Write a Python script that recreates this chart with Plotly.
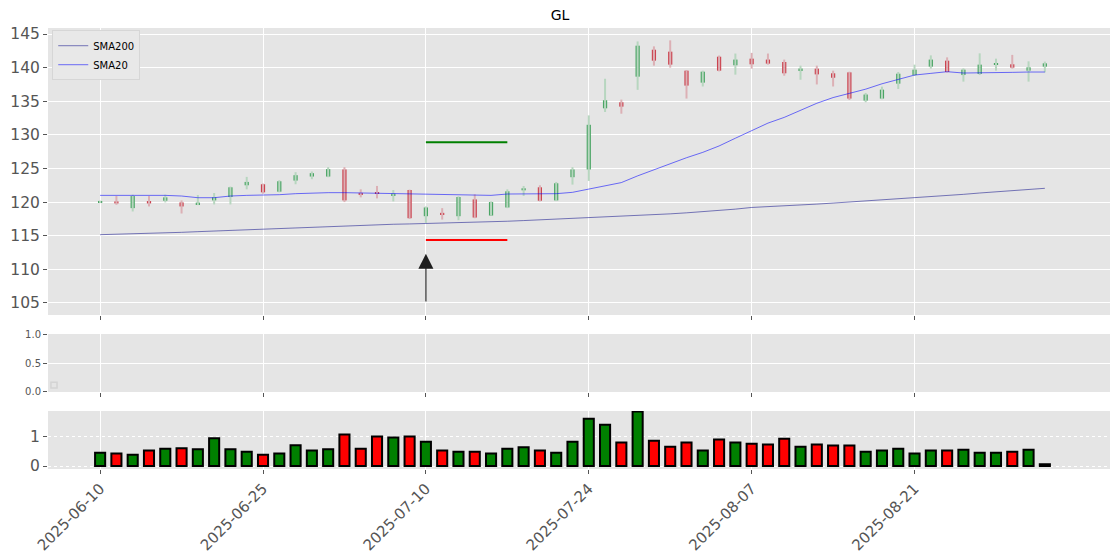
import pandas as pd
import plotly.graph_objects as go
from plotly.subplots import make_subplots

# ---------------- data ----------------
holidays = ["2025-06-19", "2025-07-04", "2025-09-01"]
dates = [d.strftime("%Y-%m-%d") for d in pd.bdate_range("2025-06-10", "2025-09-03") if d.strftime("%Y-%m-%d") not in holidays]

opens = [119.95, 120.1, 119.1, 120.15, 120.2, 119.95, 119.7, 120.25, 120.75, 122.5,
         122.65, 121.55, 123.2, 123.8, 123.8, 124.85, 121.35, 121.45, 120.9, 121.8,
         117.9, 118.4, 117.9, 120.4, 118.0, 119.2, 121.75, 122.2, 120.25, 123.7,
         124.85, 133.95, 134.85, 138.66, 142.67, 142.38, 139.55, 137.77, 141.63, 140.35,
         141.34, 141.2, 140.84, 139.65, 139.85, 139.16, 139.3, 135.1, 135.4, 137.62,
         138.9, 140.15, 141.04, 138.9, 139.06, 140.4, 140.5, 139.55, 140.15]
closes = [120.05, 119.8, 120.9, 119.8, 120.7, 119.35, 119.8, 120.7, 122.2, 123.0,
          121.45, 123.1, 124.0, 124.3, 124.9, 120.25, 121.15, 121.25, 121.25, 117.6,
          119.2, 118.17, 120.75, 117.7, 120.0, 121.6, 122.05, 120.2, 122.8, 124.85,
          131.5, 135.15, 134.2, 143.27, 141.04, 140.45, 137.33, 139.4, 139.55, 141.2,
          140.5, 140.6, 139.16, 139.8, 139.0, 138.5, 135.4, 136.0, 136.73, 139.1,
          139.7, 141.2, 139.36, 139.7, 140.45, 140.6, 140.0, 140.05, 140.64]
highs = [120.2, 120.9, 121.1, 120.9, 121.1, 120.25, 121.05, 121.35, 122.3, 123.75,
         122.75, 123.25, 124.45, 124.55, 125.2, 125.2, 121.9, 122.4, 121.8, 121.85,
         119.35, 119.1, 120.85, 121.15, 120.1, 121.9, 122.4, 122.5, 123.0, 125.2,
         132.9, 138.35, 135.25, 143.9, 143.17, 144.06, 139.65, 139.55, 141.8, 142.1,
         142.2, 142.1, 141.2, 140.3, 140.3, 139.55, 139.4, 136.24, 137.18, 139.36,
         140.45, 141.83, 141.53, 139.9, 142.13, 141.34, 141.9, 140.94, 140.9]
lows = [119.85, 119.6, 118.6, 119.35, 119.95, 118.3, 119.55, 119.65, 119.65, 121.9,
        121.25, 121.45, 122.65, 123.4, 123.7, 120.0, 120.7, 120.55, 120.1, 117.5,
        116.9, 117.4, 117.3, 117.6, 118.0, 119.1, 120.9, 120.1, 120.15, 122.6,
        123.15, 133.4, 133.15, 136.7, 140.3, 140.0, 135.4, 137.2, 139.45, 138.96,
        139.85, 140.45, 138.8, 138.2, 137.5, 137.2, 135.2, 134.85, 135.3, 136.83,
        138.76, 139.85, 139.26, 137.92, 138.9, 139.55, 139.85, 137.92, 139.3]

sma20 = [121.0, 121.0, 121.05, 121.0, 121.0, 120.9, 120.65, 120.65, 120.9, 121.0,
         121.0, 121.1, 121.25, 121.35, 121.4, 121.4, 121.35, 121.35, 121.35, 121.3,
         121.25, 121.2, 121.1, 121.05, 121.0, 121.2, 121.25, 121.2, 121.25, 121.45,
         121.9, 122.45, 122.9, 123.9, 124.8, 125.75, 126.6, 127.4, 128.35, 129.5,
         130.65, 131.75, 132.6, 133.7, 134.7, 135.55, 136.15, 136.8, 137.6, 138.3,
         138.9, 139.15, 139.4, 139.2, 139.2, 139.2, 139.3, 139.35, 139.35]
sma200 = [115.15, 115.2, 115.25, 115.35, 115.45, 115.5, 115.6, 115.7, 115.8, 115.9,
          115.95, 116.05, 116.15, 116.3, 116.4, 116.5, 116.55, 116.6, 116.7, 116.75,
          116.8, 116.9, 116.95, 117.0, 117.1, 117.15, 117.25, 117.35, 117.45, 117.55,
          117.65, 117.75, 117.85, 118.0, 118.1, 118.25, 118.4, 118.55, 118.7, 118.95,
          119.2, 119.3, 119.45, 119.55, 119.7, 119.85, 120.0, 120.15, 120.3, 120.5,
          120.7, 120.85, 121.0, 121.15, 121.35, 121.5, 121.7, 121.9, 122.05]

volume = [0.45, 0.42, 0.38, 0.52, 0.58, 0.60, 0.56, 0.93, 0.56, 0.48,
          0.38, 0.42, 0.70, 0.52, 0.56, 1.06, 0.58, 0.99, 0.96, 0.99,
          0.82, 0.52, 0.48, 0.48, 0.42, 0.58, 0.63, 0.52, 0.45, 0.82,
          1.59, 1.39, 0.79, 1.83, 0.85, 0.65, 0.79, 0.52, 0.89, 0.79,
          0.75, 0.72, 0.92, 0.65, 0.72, 0.69, 0.69, 0.48, 0.52, 0.58,
          0.42, 0.52, 0.52, 0.55, 0.45, 0.45, 0.48, 0.55, 0.06]
volume_dir = ["up", "down", "up", "down", "up", "down", "up", "up", "up", "up",
              "down", "up", "up", "up", "up", "down", "down", "down", "up", "down",
              "up", "down", "up", "down", "up", "up", "up", "down", "up", "up",
              "up", "up", "down", "up", "down", "down", "down", "up", "down", "up",
              "down", "down", "down", "up", "down", "down", "down", "up", "up", "up",
              "up", "up", "down", "up", "up", "up", "down", "up", "none"]

tick_labels = ["2025-06-10", "2025-06-25", "2025-07-10", "2025-07-24", "2025-08-07", "2025-08-21"]

signal_date = "2025-07-10"
level_end_date = "2025-07-17"
target_level = 128.9
stop_level = 114.35
arrow_tip = 112.3
arrow_base = 105.0

title = "GL"

# ---------------- positions from the trading-day index ----------------
pos = list(range(len(dates)))
tick_pos = [dates.index(t) for t in tick_labels]
sig_pos = dates.index(signal_date)
end_pos = dates.index(level_end_date)

# ---------------- styles ----------------
BG = "#e5e5e5"
GRID = "#ffffff"
TICK = "#555555"
FONT = "DejaVu Sans"
UP_BODY, DN_BODY = "#4ba565", "#cb4450"
UP_WICK, DN_WICK = "#b7d6bf", "#dcb0b5"
VCOL = {"up": "#008000", "down": "#ff0000", "none": "#000000"}

fig = make_subplots(rows=3, cols=1, shared_xaxes=False, vertical_spacing=0.02)

# wicks
for up, col in ((True, UP_WICK), (False, DN_WICK)):
    wx, wy = [], []
    for p, o, c, h, l in zip(pos, opens, closes, highs, lows):
        if (c >= o) == up:
            wx += [p, p, None]
            wy += [l, h, None]
    fig.add_trace(go.Scatter(x=wx, y=wy, mode="lines", line=dict(color=col, width=2),
                             showlegend=False, hoverinfo="skip"), row=1, col=1)

# bodies
base = [min(o, c) for o, c in zip(opens, closes)]
height = [max(abs(c - o), 0.22) for o, c in zip(opens, closes)]
bcol = [UP_BODY if c >= o else DN_BODY for o, c in zip(opens, closes)]
fig.add_trace(go.Bar(x=pos, y=height, base=base, width=0.26,
                     marker=dict(color=bcol, line=dict(width=0)),
                     showlegend=False, hoverinfo="skip"), row=1, col=1)

fig.add_trace(go.Scatter(x=pos, y=sma200, mode="lines", name="SMA200",
                         line=dict(color="rgba(20,20,140,0.55)", width=1)), row=1, col=1)
fig.add_trace(go.Scatter(x=pos, y=sma20, mode="lines", name="SMA20",
                         line=dict(color="rgba(0,0,255,0.55)", width=1)), row=1, col=1)

fig.add_trace(go.Scatter(x=[sig_pos, end_pos], y=[target_level, target_level], mode="lines",
                         line=dict(color="#008000", width=2), showlegend=False, hoverinfo="skip"), row=1, col=1)
fig.add_trace(go.Scatter(x=[sig_pos, end_pos], y=[stop_level, stop_level], mode="lines",
                         line=dict(color="#ff0000", width=2), showlegend=False, hoverinfo="skip"), row=1, col=1)

# empty middle panel placeholder trace
fig.add_trace(go.Scatter(x=[pos[0]], y=[None], mode="lines", showlegend=False, hoverinfo="skip"), row=2, col=1)

# volume
fig.add_trace(go.Bar(x=pos, y=volume, width=0.62,
                     marker=dict(color=[VCOL[v] for v in volume_dir], line=dict(color="#000000", width=2)),
                     showlegend=False, hoverinfo="skip"), row=3, col=1)

# signal arrow: grey shaft plus dark head
fig.add_annotation(x=sig_pos, y=arrow_tip - 1.0, ax=sig_pos, ay=arrow_base, xref="x", yref="y",
                   axref="x", ayref="y", showarrow=True, arrowhead=0, arrowwidth=1.6,
                   arrowcolor="#606060", text="")
fig.add_annotation(x=sig_pos, y=arrow_tip, ax=sig_pos, ay=arrow_tip - 1.6, xref="x", yref="y",
                   axref="x", ayref="y", showarrow=True, arrowhead=2, arrowsize=2.0,
                   arrowwidth=1.5, arrowcolor="#1e1e1e", text="")

xr = [-3.2, 62.0]
common_x = dict(range=xr, tickmode="array", tickvals=tick_pos, ticktext=tick_labels,
                showgrid=True, gridcolor=GRID, gridwidth=1.2, ticks="outside", ticklen=4,
                tickcolor=TICK, zeroline=False, showline=False, automargin=False)
fig.update_xaxes(**common_x)
fig.update_xaxes(showticklabels=False, row=1, col=1)
fig.update_xaxes(showticklabels=False, row=2, col=1)
fig.update_xaxes(showticklabels=True, tickangle=-45,
                 tickfont=dict(size=15, color=TICK, family=FONT), row=3, col=1)

fig.update_yaxes(range=[103.2, 145.9], tickvals=[105, 110, 115, 120, 125, 130, 135, 140, 145],
                 tickfont=dict(size=15.5, color=TICK, family=FONT),
                 domain=[0.3492, 1.0], row=1, col=1)
fig.update_yaxes(range=[0, 1], tickvals=[0, 0.5, 1.0], ticktext=["0.0", "0.5", "1.0"],
                 tickfont=dict(size=10, color=TICK, family=FONT),
                 domain=[0.1746, 0.3061], row=2, col=1)
fig.update_yaxes(range=[-0.1, 1.85], tickvals=[0, 1],
                 tickfont=dict(size=15.5, color=TICK, family=FONT),
                 griddash="dot", domain=[0.0, 0.1315], row=3, col=1)
fig.update_yaxes(showgrid=True, gridcolor=GRID, gridwidth=1.2, ticks="outside", ticklen=4,
                 tickcolor=TICK, zeroline=False, showline=False, automargin=False)

fig.add_shape(type="rect", xref="x2 domain", yref="y2 domain", x0=0.0028, x1=0.0085, y0=0.07, y1=0.17,
              line=dict(color="#d4d4d4", width=1.5), fillcolor="rgba(0,0,0,0)")

fig.update_layout(
    width=1120, height=560,
    margin=dict(l=48, r=10, t=28, b=91, autoexpand=False),
    paper_bgcolor="#ffffff", plot_bgcolor=BG,
    title=dict(text=title, x=0.5, xanchor="center", y=0.981, yanchor="top",
               font=dict(size=14, color="#000000", family=FONT)),
    showlegend=True,
    legend=dict(x=0.004, y=0.995, xanchor="left", yanchor="top", bgcolor="#e8e8e8",
                bordercolor="#d6d6d6", borderwidth=1, font=dict(size=10, color="#000000", family=FONT),
                itemwidth=30, tracegroupgap=0),
    bargap=0.3,
    hovermode=False,
)

fig.write_html("out.html", config={"displayModeBar": False},
               post_script="document.body.style.margin='0px';document.body.style.padding='0px';")
